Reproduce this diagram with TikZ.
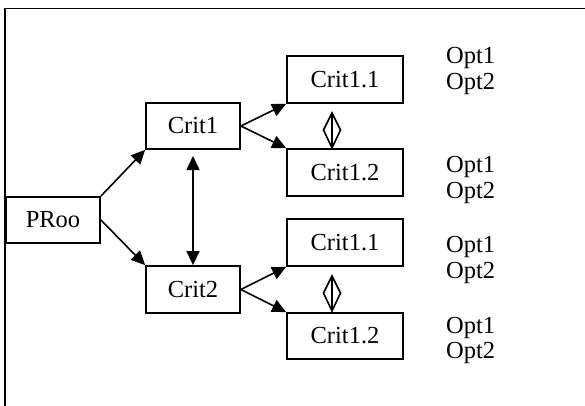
\documentclass[tikz,border=0pt]{standalone}
\usepackage{fontspec}
\setmainfont{Liberation Serif}
\usetikzlibrary{arrows.meta}
\tikzset{
  box/.style={draw, line width=1.8pt, rectangle, inner sep=0pt, font=\fontsize{24.5}{26}\selectfont},
  conn/.style={line width=1.6pt, -{Triangle[length=14pt,width=13pt]}},
  dconn/.style={line width=1.6pt, {Triangle[length=14pt,width=13pt]}-{Triangle[length=14pt,width=13pt]}},
  opt/.style={anchor=base west, inner sep=0pt, font=\fontsize{24.5}{26}\selectfont},
  frame/.style={line width=1.8pt},
  dia/.style={line width=1.6pt, line join=miter}
}
\begin{document}
\begin{tikzpicture}[x=1pt,y=-1pt]
\useasboundingbox (0,0) rectangle (585,406);
\draw[frame] (5,406) -- (5,8.5) -- (585,8.5);
% boxes
\node[box, minimum width=94pt, minimum height=46pt] (proo) at (53,220) {PRoo};
\node[box, minimum width=94pt, minimum height=46pt] (crit1) at (193,126) {Crit1};
\node[box, minimum width=94pt, minimum height=47pt] (crit2) at (193,289.5) {Crit2};
\node[box, minimum width=116pt, minimum height=47pt] (c11a) at (345,79.5) {Crit1.1};
\node[box, minimum width=116pt, minimum height=47pt] (c12a) at (345,172.5) {Crit1.2};
\node[box, minimum width=116pt, minimum height=47pt] (c11b) at (345,242.5) {Crit1.1};
\node[box, minimum width=116pt, minimum height=46pt] (c12b) at (345,336) {Crit1.2};
% connectors
\draw[conn] (proo.north east) -- (crit1.south west);
\draw[conn] (proo.east) -- (crit2.north west);
\draw[conn] (crit1.east) -- (c11a.south west);
\draw[conn] (crit1.east) -- (c12a.north west);
\draw[conn] (crit2.east) -- (c11b.south west);
\draw[conn] (crit2.east) -- (c12b.north west);
\coordinate (vtop) at (193,156);
\draw[dconn] (vtop) -- (crit2.north);
% diamonds
\draw[dia] (332,113) -- (340.5,130) -- (332,148) -- (323.5,130) -- cycle;
\draw[dia] (332,113) -- (332,148);
\draw[dia] (332,276) -- (340.5,293) -- (332,311) -- (323.5,293) -- cycle;
\draw[dia] (332,276) -- (332,311);
% options
\node[opt] (o1a) at (446,64) {Opt1};
\node[opt] (o2a) at (446,90) {Opt2};
\node[opt] (o1b) at (446,172) {Opt1};
\node[opt] (o2b) at (446,198) {Opt2};
\node[opt] (o1c) at (446,252) {Opt1};
\node[opt] (o2c) at (446,278) {Opt2};
\node[opt] (o1d) at (446,333) {Opt1};
\node[opt] (o2d) at (446,358) {Opt2};
\end{tikzpicture}
\end{document}
